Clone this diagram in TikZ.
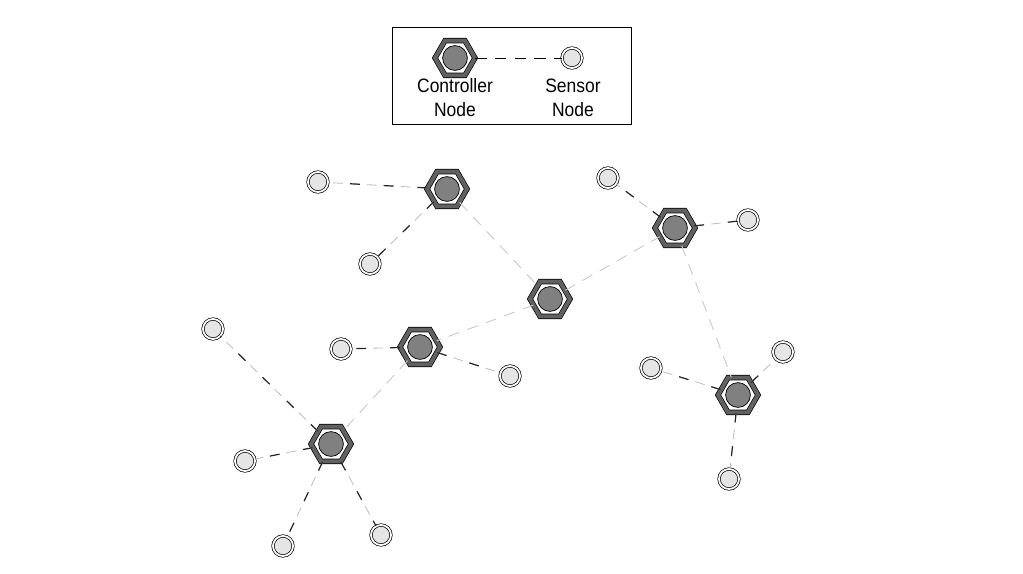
\documentclass[tikz,border=0pt]{standalone}
\usepackage{fontspec}
\setmainfont{Liberation Sans}[FakeStretch=0.9]
\usetikzlibrary{shapes.geometric,positioning}

\tikzset{
  ctrl/.style={regular polygon, regular polygon sides=6, draw=black, line width=0.5pt,
    double=black!62, double distance=0.1cm, fill=white, minimum size=1.0cm, inner sep=0pt,
    path picture={\filldraw[fill=black!50, line width=0.5pt] (path picture bounding box.center) circle (0.31cm);}},
  sensor/.style={circle, draw=black, line width=0.5pt, double=white, double distance=0.045cm,
    fill=black!10, minimum size=0.5cm, inner sep=0pt},
  slink/.style={line width=0.85pt, draw=black!85, dash pattern=on 7pt off 17pt,
    preaction={draw=black!25, line width=0.6pt, dash pattern=on 7pt off 5pt}},
  clink/.style={line width=0.7pt, draw=black!20, dash pattern=on 8pt off 6pt},
  legtext/.style={align=center, font=\fontsize{13.8}{17}\selectfont, inner sep=0pt},
}

\begin{document}
\begin{tikzpicture}[x=0.025cm, y=-0.025cm]
\useasboundingbox (0,0) rectangle (1023,573);

% legend
\draw[line width=0.6pt] (392,27) rectangle (631,124);
\node[ctrl] (lc) at (455,58) {};
\node[sensor] (ls) at (572,58) {};
\draw[line width=0.6pt, dash pattern=on 8pt off 6pt] (lc) -- (ls);
\node[legtext] (lct) at (455,98) {Controller\\Node};
\node[legtext] (lst) at (573,98) {Sensor\\Node};

% controllers
\node[ctrl] (c1) at (447,189) {};
\node[ctrl] (c2) at (675,228) {};
\node[ctrl] (c3) at (550,299) {};
\node[ctrl] (c4) at (420,347) {};
\node[ctrl] (c5) at (331,444) {};
\node[ctrl] (c6) at (738,395) {};

% sensors
\node[sensor] (s1) at (318,182) {};
\node[sensor] (s2) at (370,264) {};
\node[sensor] (s3) at (608,178) {};
\node[sensor] (s4) at (748,220) {};
\node[sensor] (s5) at (213,329) {};
\node[sensor] (s6) at (341,349) {};
\node[sensor] (s7) at (510,376) {};
\node[sensor] (s8) at (651,368) {};
\node[sensor] (s9) at (783,352) {};
\node[sensor] (s10) at (729,479) {};
\node[sensor] (s11) at (245,461) {};
\node[sensor] (s12) at (283,546) {};
\node[sensor] (s13) at (381,535) {};

% controller links
\draw[clink] (c1) -- (c3);
\draw[clink] (c3) -- (c2);
\draw[clink] (c3) -- (c4);
\draw[clink] (c4) -- (c5);
\draw[clink] (c2) -- (c6);

% sensor links
\foreach \c/\s in {c1/s1, c1/s2, c2/s3, c2/s4, c5/s5, c4/s6, c4/s7,
                   c6/s8, c6/s9, c6/s10, c5/s11, c5/s12, c5/s13}
  \draw[slink] (\c) -- (\s);

\end{tikzpicture}
\end{document}
